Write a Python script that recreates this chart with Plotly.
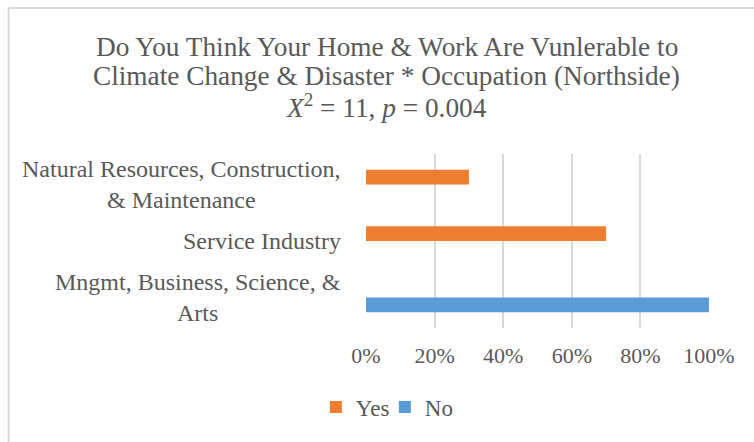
import plotly.graph_objects as go

# Share of respondents in each occupation group (column percentages)
categories = [
    "Mngmt, Business, Science, &<br>Arts",
    "Service Industry",
    "Natural Resources, Construction,<br>& Maintenance",
]
yes_values = [0.0, 0.70, 0.30]
no_values = [1.00, 0.0, 0.0]
x_ticks = [0, 0.2, 0.4, 0.6, 0.8, 1.0]
x_tick_labels = ["0%", "20%", "40%", "60%", "80%", "100%"]
title_lines = [
    "Do You Think Your Home &amp; Work Are Vunlerable to",
    "Climate Change &amp; Disaster * Occupation (Northside)",
    "<i>X</i><sup>2</sup> = 11, <i>p</i> = 0.004",
]

FONT = "Liberation Serif, Times New Roman, serif"
TEXT = "#595959"
GRID = "#D9D9D9"
ORANGE = "#ED7D31"
BLUE = "#5B9BD5"

fig = go.Figure()
# "No" goes first so that within each group it sits below "Yes"
fig.add_trace(go.Bar(
    y=categories, x=no_values, name="No", orientation="h",
    marker=dict(color=BLUE, line=dict(width=0)), legendrank=2,
))
fig.add_trace(go.Bar(
    y=categories, x=yes_values, name="Yes", orientation="h",
    marker=dict(color=ORANGE, line=dict(width=0)), legendrank=1,
))

annotations = []
# category labels, centred line by line and right-aligned to the axis
for cat in categories:
    annotations.append(dict(
        x=0, xref="paper", y=cat, yref="y", xanchor="right", yanchor="middle",
        xshift=-23, text=cat, showarrow=False, align="center",
        font=dict(family=FONT, size=24, color=TEXT),
    ))
# three-line chart title
for i, line in enumerate(title_lines):
    annotations.append(dict(
        x=0.0612, xref="paper", y=1.615 - 0.164 * i - (0.01 if i == 2 else 0),
        yref="paper", xanchor="center", yanchor="middle", text=line,
        showarrow=False, font=dict(family=FONT, size=27.3, color=TEXT),
    ))

fig.update_layout(
    width=754, height=442,
    margin=dict(l=366, r=45, t=154, b=114),
    paper_bgcolor="white", plot_bgcolor="white",
    barmode="group", bargap=0.48, bargroupgap=0,
    font=dict(family=FONT, color=TEXT, size=22),
    showlegend=True,
    legend=dict(
        orientation="h", x=0.055, xanchor="center", y=-0.454, yanchor="middle",
        font=dict(family=FONT, size=23, color=TEXT), traceorder="normal",
        itemwidth=30, entrywidth=24, entrywidthmode="pixels",
    ),
    xaxis=dict(
        range=[-0.0001, 1.0001], tickvals=x_ticks, ticktext=x_tick_labels,
        showgrid=True, gridcolor=GRID, gridwidth=1.5, zeroline=False,
        showline=False, ticks="outside", ticklen=8, tickcolor="rgba(0,0,0,0)",
        tickfont=dict(family=FONT, size=22, color=TEXT),
    ),
    yaxis=dict(
        categoryorder="array", categoryarray=categories,
        showticklabels=False, showgrid=False, zeroline=False, showline=False,
    ),
    annotations=annotations,
    shapes=[
        dict(type="line", xref="paper", yref="paper", x0=-1.042, x1=1.2,
             y0=1.839, y1=1.839, line=dict(color=GRID, width=2)),
        dict(type="line", xref="paper", yref="paper", x0=-1.042, x1=-1.042,
             y0=1.839, y1=-0.7, line=dict(color=GRID, width=2)),
    ],
)

fig.write_html("out.html")
